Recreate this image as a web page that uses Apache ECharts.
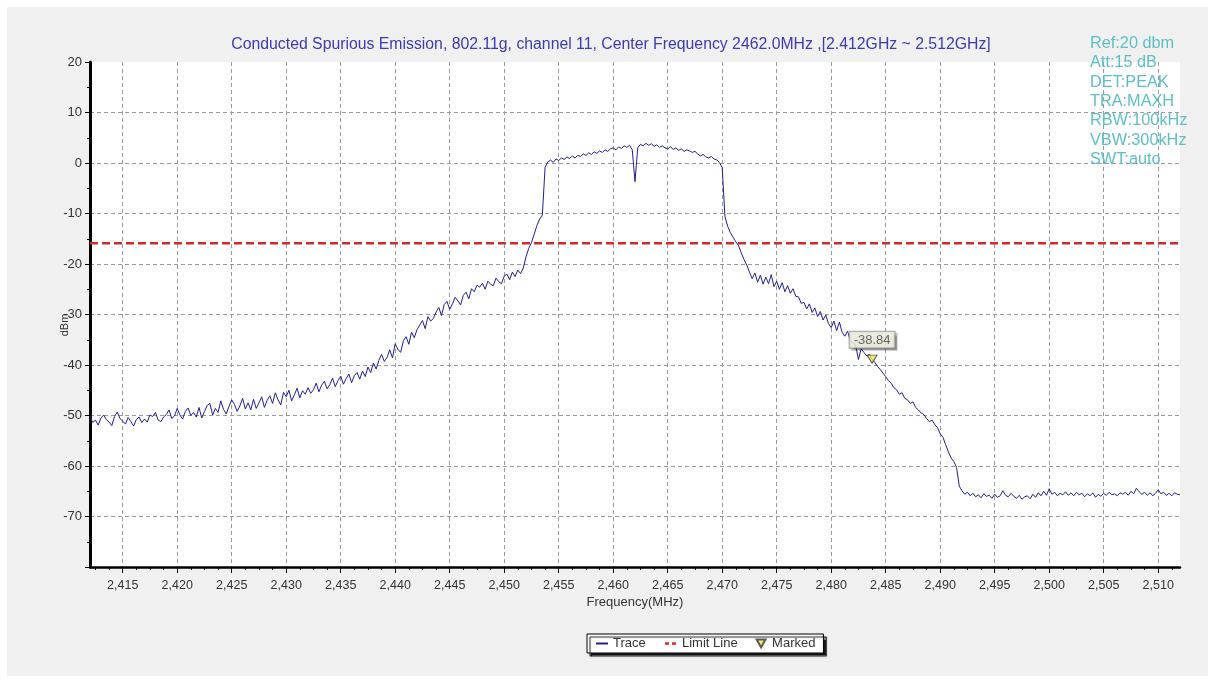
<!DOCTYPE html>
<html>
<head>
<meta charset="utf-8">
<script src="https://cdn.jsdelivr.net/npm/echarts@6/dist/echarts.min.js"></script>
<style>html,body{margin:0;padding:0;background:#fff;}#main{width:1213px;height:680px;}</style>
</head>
<body>
<div id="main"></div>
<script>
// ---- data ----
const titleText = 'Conducted Spurious Emission, 802.11g, channel 11, Center Frequency 2462.0MHz ,[2.412GHz ~ 2.512GHz]';
const infoLines = ['Ref:20 dbm', 'Att:15 dB', 'DET:PEAK', 'TRA:MAXH', 'RBW:100kHz', 'VBW:300kHz', 'SWT:auto'];
const yAxisName = 'dBm';
const xTickValues = [2415, 2420, 2425, 2430, 2435, 2440, 2445, 2450, 2455, 2460, 2465, 2470, 2475, 2480, 2485, 2490, 2495, 2500, 2505, 2510];
const freqStart = 2412;
const freqStep = 0.25;
const seg2412 = [-50.1,-51.4,-50.9,-51.9,-50.5,-49.9,-50.8,-51.3,-52.0,-50.2,-49.3,-50.6,-51.1,-51.7,-50.4,-51.2,-52.1,-50.8,-50.3,-51.4];
const seg2417 = [-50.7,-51.3,-49.9,-50.2,-49.4,-50.9,-51.2,-50.3,-49.8,-48.9,-50.6,-50.1,-48.6,-49.9,-50.7,-49.2,-48.5,-50.0,-49.4,-50.3];
const seg2422 = [-48.4,-50.5,-49.2,-48.0,-47.6,-49.9,-48.6,-49.4,-47.1,-48.8,-49.7,-48.2,-46.9,-47.8,-49.2,-48.1,-46.6,-48.7,-47.5,-48.9];
const seg2427 = [-46.8,-48.6,-47.5,-46.3,-48.4,-47.0,-46.1,-47.6,-45.5,-46.9,-47.9,-45.4,-46.3,-45.0,-47.1,-45.9,-44.6,-46.5,-45.1,-45.8];
const seg2432 = [-44.5,-45.6,-44.9,-43.6,-45.3,-44.0,-43.2,-44.7,-43.9,-42.6,-44.3,-43.1,-42.2,-43.8,-42.7,-41.8,-43.5,-42.1,-41.5,-42.8];
const seg2437 = [-41.2,-42.3,-40.4,-41.5,-39.6,-40.8,-39.1,-37.9,-39.3,-38.5,-37.0,-38.6,-35.8,-36.9,-37.5,-35.2,-34.4,-35.9,-33.5,-34.6];
const seg2442 = [-33.0,-32.1,-31.2,-32.8,-30.4,-31.3,-30.8,-29.5,-28.6,-30.2,-28.0,-27.4,-29.0,-27.9,-26.6,-27.3,-28.1,-26.2,-25.6,-26.9];
const seg2447 = [-24.9,-25.5,-24.2,-24.6,-23.8,-25.0,-23.4,-24.0,-24.3,-22.8,-23.5,-23.9,-22.4,-22.0,-23.1,-21.6,-22.5,-21.2,-21.9,-20.8];
const seg2452 = [-18.6,-16.9,-15.8,-14.1,-12.4,-11.1,-10.3,-0.9,0.2,0.6,0.1,0.8,0.5,1.0,0.7,1.2,0.9,1.4,1.0,1.5];
const seg2457 = [1.3,1.8,1.5,2.0,1.7,2.2,1.9,2.4,2.1,2.6,2.3,2.8,3.0,2.6,3.2,2.9,3.4,3.1,3.5,2.6];
const seg2462 = [-3.7,3.0,3.7,3.4,3.9,3.5,3.8,3.3,3.6,3.1,3.4,3.0,2.8,3.2,2.7,3.0,2.5,2.8,2.3,2.6];
const seg2467 = [2.4,2.1,2.3,1.8,1.4,1.7,1.2,1.0,1.3,0.8,0.6,0.1,-0.9,-10.6,-12.5,-13.8,-14.7,-15.6,-16.4,-17.8];
const seg2472 = [-19.1,-20.2,-21.6,-22.9,-21.8,-23.6,-22.2,-24.0,-22.6,-23.9,-22.1,-24.5,-23.4,-25.0,-23.7,-25.5,-24.3,-25.8,-24.9,-26.4];
const seg2477 = [-26.5,-27.8,-27.6,-28.9,-27.9,-29.6,-28.7,-30.4,-29.4,-31.1,-30.1,-31.8,-32.6,-31.3,-33.2,-31.5,-33.5,-34.3,-33.3,-35.2];
const seg2482 = [-35.6,-36.2,-38.9,-36.8,-37.5,-38.2,-37.9,-38.84,-39.5,-40.3,-40.9,-41.6,-42.3,-43.1,-43.6,-44.5,-44.9,-45.8,-45.5,-46.6];
const seg2487 = [-46.9,-47.6,-47.3,-48.4,-48.9,-49.5,-49.8,-50.6,-51.2,-50.9,-51.8,-52.4,-53.6,-54.3,-55.8,-57.2,-58.4,-59.1,-60.3,-64.0];
const seg2492 = [-64.9,-65.6,-65.2,-65.9,-65.4,-66.1,-65.7,-66.3,-65.5,-66.0,-65.8,-66.4,-65.6,-66.2,-65.9,-64.9,-65.8,-66.1,-65.4,-66.0];
const seg2497 = [-66.4,-65.8,-66.6,-66.1,-65.9,-66.5,-65.6,-66.2,-65.3,-65.9,-65.0,-65.8,-64.5,-65.6,-65.2,-65.9,-65.4,-65.7,-65.1,-65.8];
const seg2502 = [-65.3,-65.9,-65.2,-65.7,-65.4,-66.1,-65.5,-65.9,-65.3,-66.2,-65.6,-66.0,-65.4,-65.8,-65.2,-65.7,-65.5,-65.9,-65.3,-65.6];
const seg2507 = [-65.2,-65.8,-65.0,-65.5,-64.4,-65.1,-65.6,-65.2,-65.8,-65.3,-65.9,-65.4,-64.7,-65.5,-65.2,-65.8,-65.4,-65.9,-65.3,-65.6];
const seg2512 = [-65.7];
const limitLevel = -15.9;
const markerFreq = 2483.75;
const markerLevel = -38.84;

// ---- build ----
const traceLevels = [].concat(seg2412, seg2417, seg2422, seg2427, seg2432, seg2437, seg2442, seg2447,
  seg2452, seg2457, seg2462, seg2467, seg2472, seg2477, seg2482, seg2487, seg2492, seg2497, seg2502, seg2507, seg2512);
const traceData = traceLevels.map((v, i) => [freqStart + i * freqStep, v]);
const freqEnd = freqStart + (traceLevels.length - 1) * freqStep;
const minorX = [];
for (let f = 2412.5; f < freqEnd; f += 1.25) { if (Math.abs(f % 5) > 1e-6) minorX.push(f); }

const FONT = '"Liberation Sans", Arial, sans-serif';
const chart = echarts.init(document.getElementById('main'), null, { renderer: 'canvas' });
chart.setOption({
  animation: false,
  backgroundColor: '#ffffff',
  textStyle: { fontFamily: FONT },
  graphic: [
    { type: 'rect', z: -10, silent: true, shape: { x: 7, y: 7, width: 1201, height: 669 }, style: { fill: '#f0f0f0' } },
    { type: 'text', z: 10, style: { x: 611, y: 45, text: titleText, fill: '#3b3bb3', font: '15.8px ' + FONT, align: 'center', verticalAlign: 'middle' } },
    { type: 'text', z: 10, style: { x: 1090, y: 34, text: infoLines.join('\n'), fill: '#5cbfc6', font: '16.3px ' + FONT, lineHeight: 19.3, align: 'left', verticalAlign: 'top' } },
    { type: 'text', z: 10, x: 65, y: 325, rotation: Math.PI / 2, style: { x: 0, y: 0, text: yAxisName, fill: '#333', font: '11px ' + FONT, align: 'center', verticalAlign: 'middle' } }
  ],
  grid: { left: 90, right: 33, top: 62, bottom: 113, show: true, backgroundColor: '#ffffff', borderWidth: 0 },
  legend: {
    left: 587, top: 634, orient: 'horizontal',
    data: [
      { name: 'Trace', itemStyle: { opacity: 0 } },
      { name: 'Limit Line', itemStyle: { opacity: 0 }, lineStyle: { type: [4, 3], width: 2.5 } },
      { name: 'Marked' }
    ],
    itemWidth: 12, itemHeight: 8, itemGap: 18,
    padding: [3, 8, 3, 8],
    backgroundColor: '#ffffff', borderColor: '#000000', borderWidth: 1,
    shadowColor: 'rgba(0,0,0,0.9)', shadowOffsetX: 3, shadowOffsetY: 3, shadowBlur: 1,
    textStyle: { fontSize: 13, color: '#333', fontFamily: FONT }
  },
  xAxis: [{
    type: 'value', min: freqStart, max: freqEnd,
    name: 'Frequency(MHz)', nameLocation: 'middle', nameGap: 29, nameMoveOverlap: false,
    nameTextStyle: { fontSize: 13, color: '#333' },
    axisLine: { show: true, onZero: false, lineStyle: { color: '#000', width: 2.5 } },
    axisTick: { show: true, length: 6, customValues: xTickValues, lineStyle: { color: '#000' } },
    axisLabel: { customValues: xTickValues, margin: 12, fontSize: 12.5, color: '#333',
      formatter: v => Number(v).toLocaleString('en-US') },
    splitLine: { show: true, lineStyle: { color: '#9a9a9a', type: [4, 3], width: 1 } }
  }, {
    type: 'value', min: freqStart, max: freqEnd, position: 'bottom',
    axisLine: { show: false, onZero: false },
    axisTick: { show: true, length: 3, customValues: minorX, lineStyle: { color: '#000' } },
    axisLabel: { show: false },
    splitLine: { show: false }
  }],
  yAxis: {
    type: 'value', min: -80, max: 20, interval: 10,
    axisLine: { show: true, onZero: false, lineStyle: { color: '#000', width: 3 } },
    axisTick: { show: true, length: 5, lineStyle: { color: '#000' } },
    minorTick: { show: true, splitNumber: 2, length: 3, lineStyle: { color: '#000' } },
    axisLabel: { margin: 8, fontSize: 13, color: '#333', formatter: v => (v === -80 ? '' : String(v)) },
    splitLine: { show: true, showMaxLine: false, lineStyle: { color: '#9a9a9a', type: [4, 3], width: 1 } }
  },
  series: [
    {
      name: 'Limit Line', type: 'line', xAxisIndex: 0, symbol: 'none', silent: true,
      data: [[freqStart, limitLevel], [freqEnd, limitLevel]],
      lineStyle: { color: '#d42a2a', width: 2.5, type: [8, 4] }, itemStyle: { color: '#d42a2a' }, z: 2
    },
    {
      name: 'Trace', type: 'line', xAxisIndex: 0, symbol: 'none', data: traceData,
      lineStyle: { color: '#1f1f96', width: 1 }, itemStyle: { color: '#1f1f96' }, z: 3
    },
    {
      name: 'Marked', type: 'scatter', xAxisIndex: 0, data: [[markerFreq, markerLevel]],
      symbol: 'path://M0,0 L10,0 L5,9 Z', symbolSize: [10, 8],
      itemStyle: { color: '#ece85a', borderColor: '#333', borderWidth: 1 }, z: 5,
      label: {
        show: true, position: 'top', distance: 7,
        formatter: p => String(p.value[1]),
        fontSize: 13, color: '#444', backgroundColor: '#f4f4e2', borderColor: '#8a8a8a', borderWidth: 1,
        padding: [2, 4, 1, 4], shadowColor: 'rgba(0,0,0,0.3)', shadowOffsetX: 2, shadowOffsetY: 2, shadowBlur: 1
      }
    }
  ]
});
</script>
</body>
</html>
